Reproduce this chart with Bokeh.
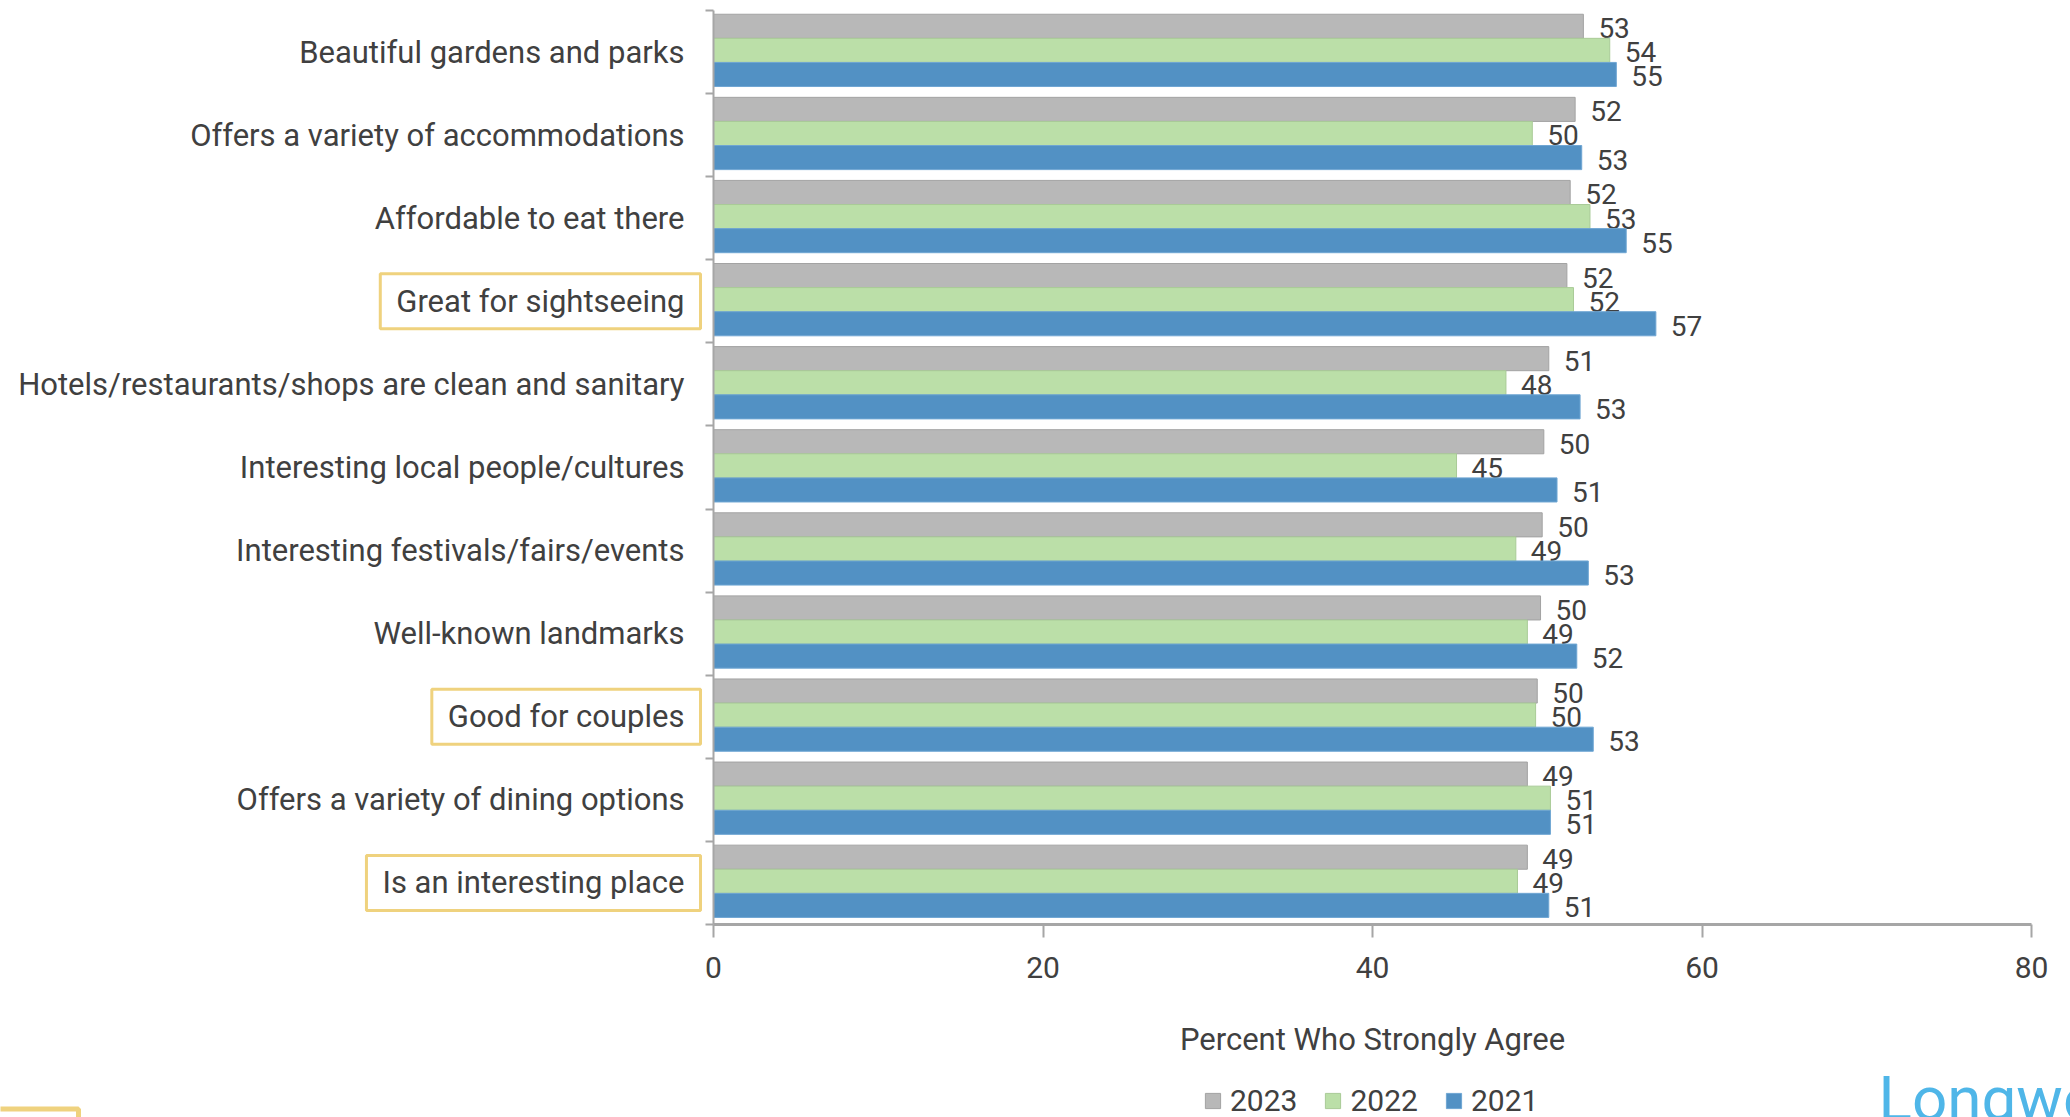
from bokeh.plotting import figure
from bokeh.layouts import column, row
from bokeh.models import (Range1d, FactorRange, LinearAxis, FixedTicker,
                          Label, Legend, LegendItem, ColumnDataSource)
from bokeh.transform import dodge
from bokeh.embed import file_html
from bokeh.resources import INLINE
from bokeh.core.properties import value

categories = [
    "Beautiful gardens and parks",
    "Offers a variety of accommodations",
    "Affordable to eat there",
    "Great for sightseeing",
    "Hotels/restaurants/shops are clean and sanitary",
    "Interesting local people/cultures",
    "Interesting festivals/fairs/events",
    "Well-known landmarks",
    "Good for couples",
    "Offers a variety of dining options",
    "Is an interesting place",
]
highlighted = ["Great for sightseeing", "Good for couples", "Is an interesting place"]

series_names = ["2023", "2022", "2021"]
v2023 = [52.8, 52.3, 52.0, 51.8, 50.7, 50.4, 50.3, 50.2, 50.0, 49.4, 49.4]
v2022 = [54.4, 49.7, 53.2, 52.2, 48.1, 45.1, 48.7, 49.4, 49.9, 50.8, 48.8]
v2021 = [54.8, 52.7, 55.4, 57.2, 52.6, 51.2, 53.1, 52.4, 53.4, 50.8, 50.7]

x_ticks = [0, 20, 40, 60, 80]
x_title = "Percent Who Strongly Agree"

TEXT = "#404040"
FONT = "Roboto"
AXIS = "#A6A6A6"
YELLOW = "#EFD27E"

n = len(categories)
TOP, FRAME_H, BELOW = 10, 914, 150
LEFT_W = 703
MAIN_W = 2070 - LEFT_W
TOP_H = TOP + FRAME_H + BELOW
BOTTOM_H = 1117 - TOP_H

src = ColumnDataSource(dict(
    cat=categories,
    v2023=v2023, v2022=v2022, v2021=v2021,
    l2023=[str(round(v)) for v in v2023],
    l2022=[str(round(v)) for v in v2022],
    l2021=[str(round(v)) for v in v2021],
))

# ---------------- main bar chart ----------------
p = figure(width=MAIN_W, height=TOP_H, x_range=Range1d(0, 80),
           y_range=FactorRange(factors=categories[::-1]),
           output_backend="svg", toolbar_location=None,
           min_border_left=10, min_border_right=39,
           min_border_top=TOP, min_border_bottom=BELOW)
p.outline_line_color = None
p.grid.visible = False
p.yaxis.visible = False

yax = LinearAxis(ticker=FixedTicker(ticks=list(range(n + 1))),
                 major_label_overrides={i: "" for i in range(n + 1)},
                 major_label_standoff=0,
                 major_tick_out=8, major_tick_in=0,
                 minor_tick_line_color=None,
                 axis_line_color=AXIS, axis_line_width=2,
                 major_tick_line_color=AXIS, major_tick_line_width=2)
p.add_layout(yax, "left")

xa = p.xaxis[0]
xa.ticker = FixedTicker(ticks=x_ticks)
xa.minor_tick_line_color = None
xa.major_tick_out = 13
xa.major_tick_in = 0
xa.axis_line_color = AXIS
xa.axis_line_width = 3
xa.major_tick_line_color = AXIS
xa.major_tick_line_width = 2
xa.major_label_text_font = FONT
xa.major_label_text_font_size = "30px"
xa.major_label_text_color = TEXT
xa.major_label_standoff = 19
xa.axis_label = x_title
xa.axis_label_text_font = FONT
xa.axis_label_text_font_style = "normal"
xa.axis_label_text_font_size = "31px"
xa.axis_label_text_color = TEXT
xa.axis_label_standoff = 40

specs = [("2023", "#B8B8B8", "#A3A3A3", 0.31),
         ("2022", "#BBDFA8", "#A9CB97", 0.02),
         ("2021", "#5291C4", "#6FA6D3", -0.27)]
for name, fill, line, off in specs:
    p.hbar(y=dodge("cat", off, range=p.y_range), left=0, right="v" + name,
           height=0.29, source=src, fill_color=fill, line_color=line,
           line_width=1)
    p.text(x="v" + name, y=dodge("cat", off, range=p.y_range), text="l" + name,
           source=src, x_offset=15, y_offset=2, text_align="left",
           text_baseline="middle", text_font=value(FONT),
           text_font_size="28px", text_color=TEXT)

# ---------------- category labels (left strip) ----------------
lab = figure(width=LEFT_W, height=TOP_H, x_range=Range1d(0, LEFT_W),
             y_range=Range1d(0, n), x_axis_type=None, y_axis_type=None,
             output_backend="svg", toolbar_location=None,
             min_border_left=0, min_border_right=0,
             min_border_top=TOP, min_border_bottom=BELOW)
lab.outline_line_color = None
lab.grid.visible = False
for i, c in enumerate(categories):
    lab.add_layout(Label(x=700, y=n - i - 0.5, text=c,
                         text_align="right", text_baseline="middle",
                         text_font=FONT, text_font_size="31px",
                         text_color=TEXT,
                         padding=dict(left=16, right=16, top=9, bottom=9),
                         border_line_color=YELLOW if c in highlighted else None,
                         border_line_width=3))

# ---------------- bottom strip: legend, logo ----------------
bot = figure(width=2070, height=BOTTOM_H, x_range=Range1d(0, 2070),
             y_range=Range1d(0, BOTTOM_H), x_axis_type=None, y_axis_type=None,
             output_backend="svg", toolbar_location=None,
             min_border=0)
bot.outline_line_color = None
bot.grid.visible = False
bsrc = ColumnDataSource(dict(y=[-1000.0], r=[0.0]))
items = []
for (name, fill, line, off) in specs:
    rr = bot.hbar(y="y", right="r", left=0, height=1, source=bsrc,
                  fill_color=fill, line_color=line, line_width=1)
    items.append(LegendItem(label=name, renderers=[rr], index=0))
legend = Legend(items=items, orientation="horizontal", location=(1203, -1),
                glyph_width=19, glyph_height=19, label_standoff=8, spacing=26,
                label_text_font=FONT, label_text_font_size="30px",
                label_text_color=TEXT, border_line_color=None,
                background_fill_alpha=0, padding=0, margin=0)
bot.add_layout(legend, "center")
bot.quad(left=[-10], right=[78], top=[8.5], bottom=[-20],
         fill_color=None, line_color=YELLOW, line_width=5)
bot.add_layout(Label(x=1878, y=19, text="Longwoods", text_font=FONT,
                     text_font_size="62px", text_color="#4FB6E8",
                     text_baseline="alphabetic"))

layout = column(row(lab, p), bot)
open("out.html", "w").write(file_html(layout, INLINE))
